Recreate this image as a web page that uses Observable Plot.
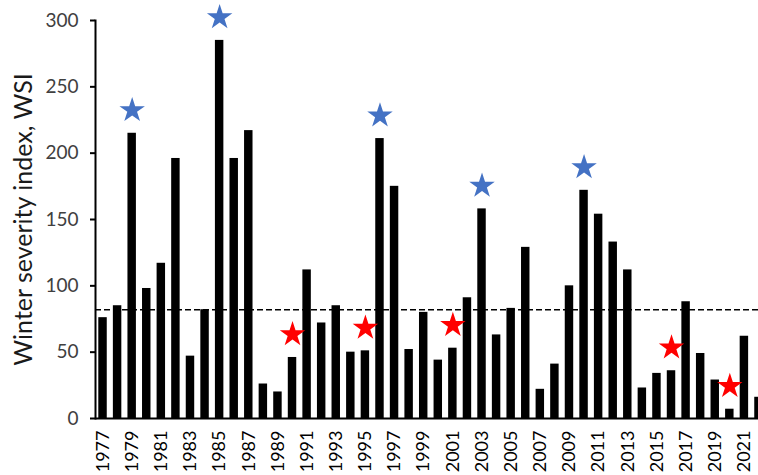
<!DOCTYPE html>
<html>
<head>
<meta charset="utf-8">
<script src="https://cdn.jsdelivr.net/npm/d3@7"></script>
<script src="https://cdn.jsdelivr.net/npm/@observablehq/plot@0.6"></script>
<style>
  html, body { margin: 0; padding: 0; background: #fff; overflow: hidden; }
  #chart svg { display: block; }
</style>
</head>
<body>
<div id="chart"></div>
<script>
const years = [1977,1978,1979,1980,1981,1982,1983,1984,1985,1986,1987,1988,1989,1990,1991,1992,1993,1994,1995,1996,1997,1998,1999,2000,2001,2002,2003,2004,2005,2006,2007,2008,2009,2010,2011,2012,2013,2014,2015,2016,2017,2018,2019,2020,2021,2022];
const wsi = [76,85,215,98,117,196,47,82,285,196,217,26,20,46,112,72,85,50,51,211,175,52,80,44,53,91,158,63,83,129,22,41,100,172,154,133,112,23,34,36,88,49,29,7,62,16];
const blueYears = [1979,1985,1996,2003,2010];
const redYears = [1990,1995,2001,2016,2020];
const meanWSI = 82;
const yTicks = [0,50,100,150,200,250,300];
const xTickLabels = [1977,1979,1981,1983,1985,1987,1989,1991,1993,1995,1997,1999,2001,2003,2005,2007,2009,2011,2013,2015,2017,2019,2021];
const yLabel = "Winter severity index, WSI";

const data = years.map((year, i) => ({year, wsi: wsi[i]}));

const plot = Plot.plot({
  width: 758,
  height: 475,
  marginLeft: 95,
  marginTop: 20,
  marginBottom: 57,
  marginRight: 0,
  x: {type: "band", domain: years, range: [95, 766], paddingInner: 0.42, paddingOuter: 0.226, align: 0.5, round: false},
  y: {domain: [0, 300], range: [418, 20]},
  style: {fontFamily: "Lato, 'Open Sans', sans-serif", background: "white", overflow: "hidden"},
  marks: [
    Plot.barY(data, {x: "year", y: "wsi", fill: "black"}),
    Plot.ruleY([meanWSI], {stroke: "black", strokeWidth: 1.6, strokeDasharray: "6,3"}),
    Plot.ruleY([0], {stroke: "black", strokeWidth: 2}),
    Plot.frame({anchor: "left", stroke: "black", strokeWidth: 2}),
    Plot.axisY({ticks: yTicks, tickSize: 5, tickPadding: 12, fontSize: 19, stroke: "black", strokeWidth: 2, fill: "#404040", label: null}),
    Plot.axisX({ticks: xTickLabels, tickSize: 0, tickRotate: -90, tickPadding: 12, fontSize: 18, fill: "black", tickFormat: d => String(d), label: null}),
    Plot.dot(data.filter(d => blueYears.includes(d.year)), {x: "year", y: "wsi", dy: -23, symbol: "star", r: 8, fill: "#4472C4"}),
    Plot.dot(data.filter(d => redYears.includes(d.year)), {x: "year", y: "wsi", dy: -23, symbol: "star", r: 8, fill: "#FF0000"}),
    Plot.text([yLabel], {frameAnchor: "left", textAnchor: "middle", dx: -72, rotate: -90, fontSize: 25, fill: "#1a1a1a"})
  ]
});

document.getElementById("chart").appendChild(plot);
</script>
</body>
</html>
